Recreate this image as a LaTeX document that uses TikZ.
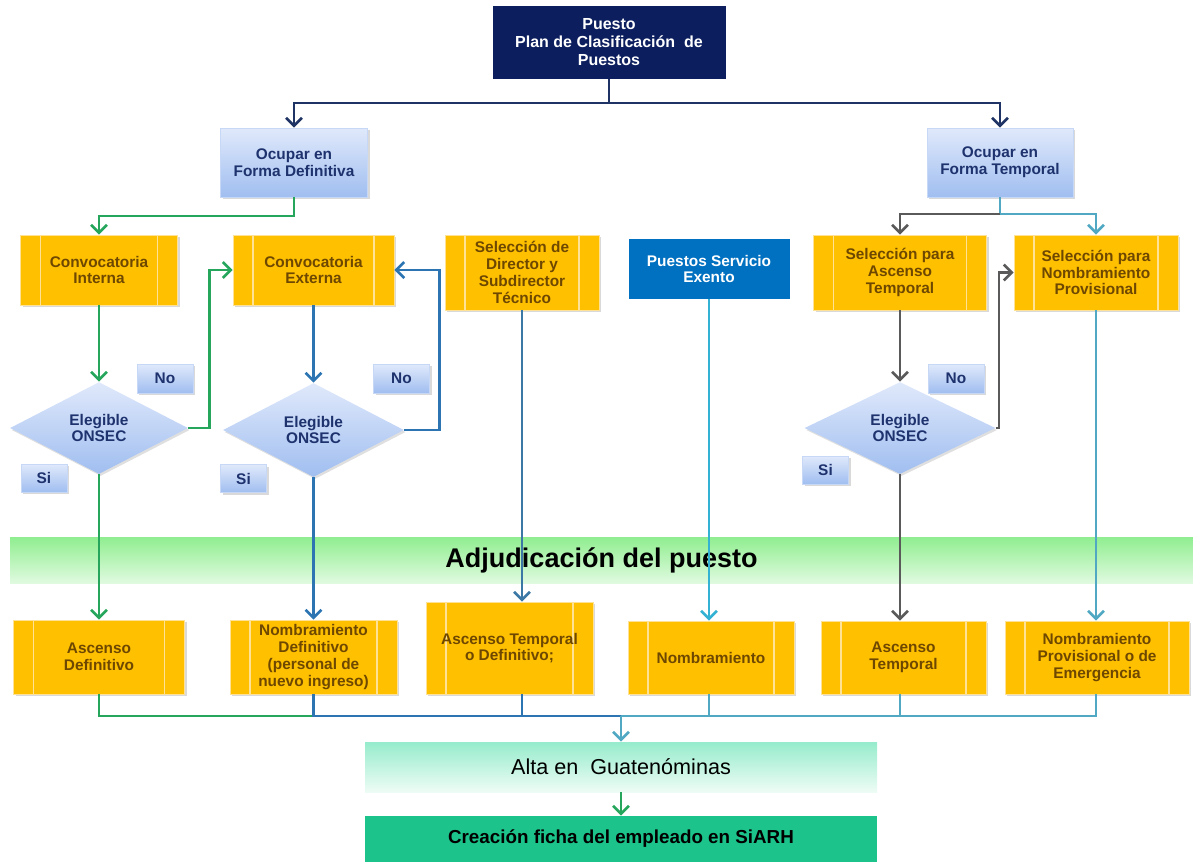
\documentclass[tikz,border=0pt]{standalone}
\usepackage{fontspec}
\setmainfont{Liberation Sans}
\usetikzlibrary{shapes.geometric,arrows.meta,shadows}

\definecolor{headnavy}{RGB}{12,30,94}
\definecolor{navyline}{RGB}{31,52,100}
\definecolor{ltblue}{RGB}{224,233,251}
\definecolor{midblue}{RGB}{160,190,240}
\definecolor{bluetext}{RGB}{30,50,110}
\definecolor{orangefill}{RGB}{255,192,0}
\definecolor{orangetext}{RGB}{110,72,0}
\definecolor{orangeedge}{RGB}{255,226,150}
\definecolor{exentoblue}{RGB}{0,112,192}
\definecolor{greenline}{RGB}{38,166,92}
\definecolor{blueline}{RGB}{44,117,178}
\definecolor{steelline}{RGB}{60,120,165}
\definecolor{cyanline}{RGB}{52,178,212}
\definecolor{tealline}{RGB}{80,168,195}
\definecolor{grayline}{RGB}{90,90,90}
\definecolor{bandtop}{RGB}{144,238,144}
\definecolor{bandbot}{RGB}{224,250,224}
\definecolor{altatop}{RGB}{150,236,204}
\definecolor{altabot}{RGB}{238,252,246}
\definecolor{fichagreen}{RGB}{28,196,140}

\newcommand\boxfont{\fontsize{7.7}{8.4}\selectfont\bfseries}

\begin{document}
\begin{tikzpicture}[x=0.5pt,y=-0.5pt,
    every node/.style={align=center,inner sep=0pt},
    wire/.style={line width=1.3pt},
    wirearrow/.style={line width=1.3pt,-{Straight Barb[length=4pt,width=8pt]}},
    headbox/.style={fill=headnavy,text=white,font=\fontsize{8}{9}\selectfont\bfseries},
    lbox/.style={draw=midblue!60!white,top color=ltblue,bottom color=midblue,text=bluetext,font=\boxfont,
        drop shadow={shadow xshift=1pt,shadow yshift=-1.2pt,opacity=0.3}},
    tagno/.style={lbox,minimum width=28pt,minimum height=14.5pt},
    tagsi/.style={lbox,minimum width=23pt,minimum height=14pt},
    dbox/.style={diamond,top color=ltblue,bottom color=midblue,text=bluetext,font=\boxfont,
        drop shadow={shadow xshift=0.8pt,shadow yshift=-1pt,opacity=0.25}},
    pbox/.style={draw=orangeedge,fill=orangefill,text=orangetext,font=\boxfont,
        drop shadow={shadow xshift=1pt,shadow yshift=-1pt,opacity=0.3},
        path picture={
            \draw[orangeedge,line width=0.6pt] ([xshift=10pt]path picture bounding box.north west) -- ([xshift=10pt]path picture bounding box.south west);
            \draw[orangeedge,line width=0.6pt] ([xshift=-10pt]path picture bounding box.north east) -- ([xshift=-10pt]path picture bounding box.south east);}},
    exbox/.style={fill=exentoblue,text=white,font=\boxfont},
    band/.style={top color=bandtop,bottom color=bandbot,font=\fontsize{13.5}{15}\selectfont\bfseries},
    altabox/.style={top color=altatop,bottom color=altabot,font=\fontsize{10.8}{12}\selectfont},
    fichabox/.style={fill=fichagreen,font=\fontsize{9.4}{11}\selectfont\bfseries}]

\useasboundingbox (0,0) rectangle (1193,863);

% top
\node[headbox,minimum width=116.5pt,minimum height=36.5pt] (puesto) at (609,42.5) {Puesto\\Plan de Clasificación \ de\\Puestos};
\node[lbox,minimum width=73.5pt,minimum height=34.5pt] (ocdef) at (294,162.5) {Ocupar en\\Forma Definitiva};
\node[lbox,minimum width=73pt,minimum height=34.5pt] (octemp) at (1000,162.5) {Ocupar en\\Forma Temporal};

% selection
\node[pbox,minimum width=78.5pt,minimum height=35pt] (convint) at (99,270) {Convocatoria\\Interna};
\node[pbox,minimum width=80.5pt,minimum height=35pt] (convext) at (313.5,270) {Convocatoria\\Externa};
\node[pbox,minimum width=77pt,minimum height=37.5pt] (seldir) at (522,272.5) {Selección de\\Director y\\Subdirector\\Técnico};
\node[exbox,minimum width=80.5pt,minimum height=30pt] (exento) at (709,269) {Puestos Servicio\\Exento};
\node[pbox,minimum width=86.5pt,minimum height=37.5pt] (selasc) at (900,272.5) {Selección para\\Ascenso\\Temporal};
\node[pbox,minimum width=82pt,minimum height=37.5pt] (selnom) at (1096,272.5) {Selección para\\Nombramiento\\Provisional};

% ONSEC
\node[dbox,minimum width=89pt,minimum height=46pt] (d1) at (99,428) {Elegible\\ONSEC};
\node[dbox,minimum width=90.5pt,minimum height=47pt] (d2) at (313.5,430) {Elegible\\ONSEC};
\node[dbox,minimum width=95.5pt,minimum height=46pt] (d3) at (900,428) {Elegible\\ONSEC};
\node[tagno] (no1) at (165,378.5) {No};
\node[tagno] (no2) at (401.5,378.5) {No};
\node[tagno] (no3) at (956,378.5) {No};
\node[tagsi] (si1) at (44,478) {Si};
\node[tagsi] (si2) at (243.5,478.5) {Si};
\node[tagsi] (si3) at (825.5,470) {Si};

\node[band,minimum width=591.5pt,minimum height=23pt] (adj) at (601.5,560) {Adjudicación del puesto};

% results
\node[pbox,minimum width=85.5pt,minimum height=37pt] (ascdef) at (99,657) {Ascenso\\Definitivo};
\node[pbox,minimum width=83.5pt,minimum height=37pt] (nomdef) at (313.5,657) {Nombramiento\\Definitivo\\(personal de\\nuevo ingreso)};
\node[pbox,minimum width=83.5pt,minimum height=46pt] (ascto) at (509.5,648) {Ascenso Temporal\\o Definitivo;};
\node[pbox,minimum width=83pt,minimum height=36.5pt] (nomb) at (711,657.5) {Nombramiento};
\node[pbox,minimum width=82.5pt,minimum height=36.5pt] (asctemp) at (903.5,657.5) {Ascenso\\Temporal};
\node[pbox,minimum width=92pt,minimum height=36.5pt] (nomprov) at (1097,657.5) {Nombramiento\\Provisional o de\\Emergencia};

\node[altabox,minimum width=256pt,minimum height=25pt] (alta) at (621,767) {Alta en \ Guatenóminas};
\node[fichabox,minimum width=256pt,minimum height=23pt] (ficha) at (621,839) {Creación ficha del empleado en SiARH};

\coordinate (top) at (609,103);
\coordinate (defsplit) at (294,216);
\coordinate (tempsplit) at (1000,214);
\coordinate (bus) at (621,716);

\draw[wire,navyline] (puesto.south) -- (top);
\draw[wirearrow,navyline] (top) -| (ocdef.north);
\draw[wirearrow,navyline] (top) -| (octemp.north);

\draw[wirearrow,greenline] (ocdef.south) -- (defsplit) -| (convint.north);
\draw[wirearrow,greenline] (convint) -- (d1);
\draw[wirearrow,greenline] (d1) -- (ascdef);
\draw[wirearrow,greenline] (d1.east) -- ++(21,0) |- (convext.west);

\draw[wirearrow,blueline] (convext) -- (d2);
\draw[wirearrow,blueline] (d2) -- (nomdef);
\draw[wirearrow,blueline] (d2.east) -- ++(35,0) |- (convext.east);

\draw[wirearrow,steelline] (seldir.south) -- (seldir.south |- ascto.north);
\draw[wirearrow,cyanline] (exento.south) -- (exento.south |- nomb.north);

\draw[wire,tealline] (octemp.south) -- (tempsplit);
\draw[wirearrow,grayline] (tempsplit) -| (selasc.north);
\draw[wirearrow,tealline] (tempsplit) -| (selnom.north);
\draw[wirearrow,grayline] (selasc) -- (d3);
\draw[wirearrow,grayline] (d3.south) -- (d3.south |- asctemp.north);
\draw[wirearrow,grayline] (d3.east) -- ++(3,0) |- (selnom.west);
\draw[wirearrow,tealline] (selnom.south) -- (selnom.south |- nomprov.north);

% to Guatenominas
\draw[wire,greenline] (ascdef.south) |- (nomdef.south |- bus);
\draw[wire,blueline] (nomdef.south) |- (bus);
\draw[wire,blueline] (seldir.south |- ascto.south) -- (seldir.south |- bus);
\draw[wire,tealline] (selnom.south |- nomprov.south) |- (bus);
\draw[wire,tealline] (exento.south |- nomb.south) -- (exento.south |- bus);
\draw[wire,tealline] (d3.south |- asctemp.south) -- (d3.south |- bus);
\draw[wirearrow,tealline] (bus) -- (alta);
\draw[wirearrow,greenline] (alta) -- (ficha);
\end{tikzpicture}
\end{document}
